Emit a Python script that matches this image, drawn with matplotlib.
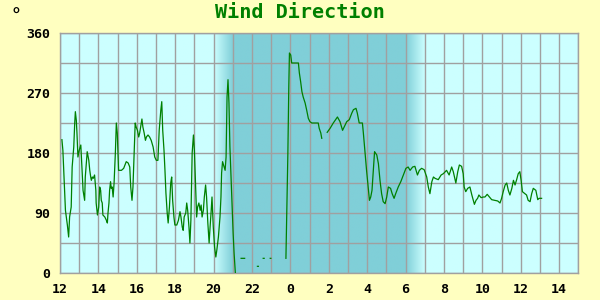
import numpy as np
import matplotlib
matplotlib.use("Agg")
import matplotlib.pyplot as plt
from matplotlib.colors import to_rgb

nan = np.nan

# minutes after 12:00 (day 1); NaN entries mark gaps in the record
minutes = [
    6, 9, 17, 23, 27, 30, 35, 38, 43, 46, 48, 51, 53, 56, 60, 65, 67, 69, 72, 77,
    79, 85, 90, 93, 96, 98, 101, 104, 108, 112, 113, 117, 121, 124, 127, 129, 132, 134, 140, 145,
    148, 150, 153, 155, 158, 160, 163, 166, 169, 173, 176, 179, 183, 192, 199, 207, 213, 218, 221, 225,
    228, 231, 235, 238, 242, 246, 249, 252, 256, 259, 263, 267, 270, 275, 280, 285, 291, 296, 301, 306,
    310, 315, 318, 321, 325, 328, 331, 335, 338, 342, 346, 349, 352, 356, 359, 365, 370, 375, 378, 382,
    385, 388, 393, 396, 399, 403, 406, 409, 413, 417, 420, 423, 427, 430, 434, 438, 441, 444, 448, 451,
    455, 458, 462, 466, 469, 472, 475, 479, 483, 487, 490, 495, 500, 503, 505, 508, 513, 516, 519, 522,
    525, 528, 531, 534, 538, 541, 544, 548, 549,
    566, 577, 578,
    617, 620, 621,
    635, 638, 639,
    657, 659, 660,
    706, 708, 712, 715, 717, 721, 724, 745, 748, 752, 756, 760, 766, 771, 776, 781, 787, 807, 810, 815,
    818, 819,
    835, 844, 854, 867, 875, 883, 891, 896, 904, 912, 917, 925, 929, 935, 945, 948, 953, 958, 963, 967,
    971, 975, 979, 983, 990, 995, 1000, 1005, 1010, 1016, 1021, 1026, 1033, 1038, 1044, 1049, 1057, 1065, 1073, 1081,
    1088, 1094, 1102, 1109, 1117, 1123, 1130, 1138, 1146, 1151, 1156, 1162, 1167, 1172, 1182, 1191, 1198, 1208, 1216, 1224,
    1229, 1237, 1243, 1248, 1255, 1260, 1263, 1268, 1274, 1281, 1287, 1295, 1300, 1305, 1309, 1316, 1323, 1328, 1335, 1342,
    1349, 1359, 1368, 1375, 1380, 1385, 1391, 1396, 1401, 1406, 1412, 1417, 1422, 1427, 1432, 1437, 1441, 1445, 1453, 1458,
    1463, 1469, 1474, 1479, 1487, 1493, 1497, 1505,
]

# wind direction, degrees
direction = [
    200, 184, 94, 72, 54, 84, 99, 159, 189, 225, 242, 229, 210, 174, 184, 192, 174, 154, 124, 109,
    144, 182, 169, 154, 144, 139, 144, 142, 147, 124, 105, 87, 99, 129, 124, 109, 105, 87, 84, 79,
    75, 90, 105, 124, 137, 127, 129, 114, 135, 180, 225, 210, 154, 154, 157, 167, 165, 159, 129, 109,
    129, 169, 225, 219, 214, 204, 210, 219, 231, 219, 210, 199, 204, 207, 204, 199, 189, 174, 169, 169,
    214, 244, 257, 214, 184, 154, 120, 90, 75, 99, 135, 144, 109, 84, 72, 72, 79, 92, 84, 69,
    64, 84, 90, 105, 94, 69, 45, 79, 180, 207, 184, 139, 84, 99, 105, 94, 102, 84, 94, 114,
    132, 114, 75, 45, 69, 90, 114, 69, 39, 24, 34, 54, 84, 114, 150, 167, 159, 154, 174, 264,
    290, 255, 189, 150, 100, 60, 30, 0, nan,
    22, 22, nan,
    10, 10, nan,
    22, 22, nan,
    22, 22, nan,
    22, 75, 177, 280, 330, 327, 315, 315, 300, 287, 272, 264, 255, 244, 232, 227, 225, 225, 217, 210,
    202, nan,
    211, 217, 225, 234, 227, 214, 222, 227, 230, 240, 245, 247, 240, 225, 225, 210, 182, 154, 129, 109,
    114, 124, 154, 182, 177, 164, 139, 119, 107, 104, 114, 129, 127, 119, 112, 119, 129, 137, 147, 157,
    159, 154, 159, 160, 147, 154, 157, 155, 144, 129, 119, 137, 144, 142, 140, 147, 149, 154, 147, 159,
    152, 135, 152, 162, 160, 149, 129, 122, 127, 129, 117, 103, 109, 112, 117, 113, 114, 114, 118, 114,
    110, 109, 108, 105, 112, 122, 132, 135, 124, 117, 127, 139, 132, 140, 149, 152, 139, 122, 119, 117,
    109, 107, 119, 127, 124, 110, 112, 112,
]

x_ticks = [12, 14, 16, 18, 20, 22, 24, 26, 28, 30, 32, 34, 36, 38]
x_tick_labels = ["12", "14", "16", "18", "20", "22", "0", "2", "4", "6", "8", "10", "12", "14"]
y_ticks = [0, 90, 180, 270, 360]
# night shading: dusk 20-21h, dark until 6h next day, dawn 6-7h
dusk_start, dusk_end, dawn_start, dawn_end = 20, 21, 30, 31

hours = 12 + np.array(minutes, dtype=float) / 60.0
deg = np.array(direction, dtype=float)

BG = "#FFFFC0"
LIGHT = "#CCFFFF"
DARK = "#80CFD8"
GRID = "#A0A0A0"

fig = plt.figure(figsize=(6, 3), dpi=100, facecolor=BG)
ax = fig.add_axes([0.1, 0.09, 0.864, 0.80])
ax.set_xlim(12, 39)
ax.set_ylim(0, 360)

# background gradient
xs = np.linspace(12, 39, 2000)
w = np.zeros_like(xs)
w = np.where((xs >= dusk_start) & (xs < dusk_end), (xs - dusk_start) / (dusk_end - dusk_start), w)
w = np.where((xs >= dusk_end) & (xs < dawn_start), 1.0, w)
w = np.where((xs >= dawn_start) & (xs < dawn_end), 1 - (xs - dawn_start) / (dawn_end - dawn_start), w)
c0 = np.array(to_rgb(LIGHT)); c1 = np.array(to_rgb(DARK))
img = (c0[None, :] * (1 - w[:, None]) + c1[None, :] * w[:, None])[None, :, :]
ax.imshow(img, aspect="auto", extent=[12, 39, 0, 360], zorder=0, interpolation="bilinear")

ax.set_xticks(np.arange(12, 40, 1), minor=True)
ax.set_xticks(x_ticks)
ax.set_xticklabels(x_tick_labels)
ax.set_yticks(y_ticks)
ax.set_yticks(np.arange(0, 361, 45), minor=True)
ax.grid(True, which="both", color=GRID, linewidth=1.0)
ax.set_axisbelow(True)
ax.tick_params(which="both", length=0)
ax.tick_params(axis="x", pad=7)
ax.tick_params(axis="y", pad=7)
for lab in ax.get_xticklabels() + ax.get_yticklabels():
    lab.set_fontfamily("DejaVu Sans Mono")
    lab.set_fontweight("bold")
    lab.set_fontsize(9.5)
for sp in ax.spines.values():
    sp.set_color(GRID)
    sp.set_linewidth(1.0)

ax.plot(hours, deg, color="#008000", linewidth=0.9, zorder=3)

fig.text(0.5, 0.96, "Wind Direction", ha="center", va="center", color="#008000",
         fontfamily="DejaVu Sans Mono", fontweight="bold", fontsize=14.5)
fig.text(0.026, 0.945, "°", ha="center", va="center", color="black",
         fontfamily="DejaVu Sans Mono", fontweight="bold", fontsize=13)

fig.savefig("out.png", dpi=100, facecolor=BG)
